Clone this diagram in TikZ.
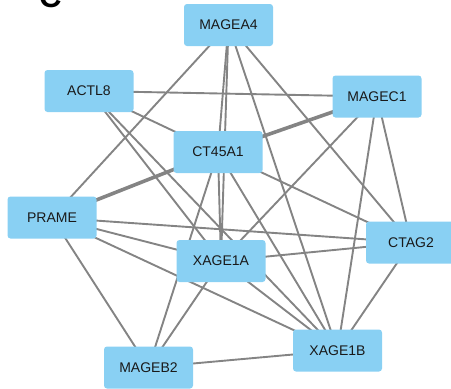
\documentclass[tikz,border=0pt]{standalone}
\usepackage{fontspec}
\setmainfont{Liberation Sans}
\usetikzlibrary{backgrounds}
\definecolor{nodeblue}{RGB}{137,208,243}
\definecolor{edgegray}{RGB}{132,132,132}
\tikzset{
  gene/.style={draw=none, fill=nodeblue, rounded corners=3pt, minimum width=89pt, minimum height=42pt, inner sep=0pt, font=\fontsize{14}{16}\selectfont, text=black!90},
  edge/.style={draw=edgegray, line width=1.9pt},
  heavyedge/.style={draw=edgegray, line width=3.6pt}
}
\begin{document}
\begin{tikzpicture}[x=1pt,y=-1pt]
\useasboundingbox (0,0) rectangle (451,389);
\node[anchor=base west, font=\fontsize{31}{31}\selectfont\bfseries, inner sep=0pt] (lbl) at (39,7.5) {C};
\node[gene] (MAGEA4) at (228.5,25) {MAGEA4};
\node[gene] (ACTL8) at (89,91) {ACTL8};
\node[gene] (MAGEC1) at (377,96.5) {MAGEC1};
\node[gene] (CT45A1) at (218,152) {CT45A1};
\node[gene] (PRAME) at (52,217.5) {PRAME};
\node[gene, minimum width=90pt] (CTAG2) at (411,242.5) {CTAG2};
\node[gene] (XAGE1A) at (221,261) {XAGE1A};
\node[gene] (XAGE1B) at (337.5,350.5) {XAGE1B};
\node[gene] (MAGEB2) at (148.5,367.5) {MAGEB2};
\begin{scope}[on background layer]
\foreach \a/\b in {MAGEA4/PRAME, MAGEA4/CT45A1, MAGEA4/XAGE1A, MAGEA4/XAGE1B, MAGEA4/CTAG2,
  ACTL8/MAGEC1, ACTL8/CT45A1, ACTL8/XAGE1A, ACTL8/XAGE1B,
  MAGEC1/XAGE1A, MAGEC1/XAGE1B, MAGEC1/CTAG2,
  CT45A1/XAGE1A, CT45A1/CTAG2, CT45A1/XAGE1B, CT45A1/MAGEB2,
  PRAME/CTAG2, PRAME/XAGE1A, PRAME/XAGE1B, PRAME/MAGEB2,
  XAGE1A/CTAG2, XAGE1A/XAGE1B, XAGE1A/MAGEB2,
  CTAG2/XAGE1B, MAGEB2/XAGE1B}
  \draw[edge] (\a.center) -- (\b.center);
\draw[heavyedge] (MAGEC1.center) -- (CT45A1.center);
\draw[heavyedge] (CT45A1.center) -- (PRAME.center);
\end{scope}
\end{tikzpicture}
\end{document}
